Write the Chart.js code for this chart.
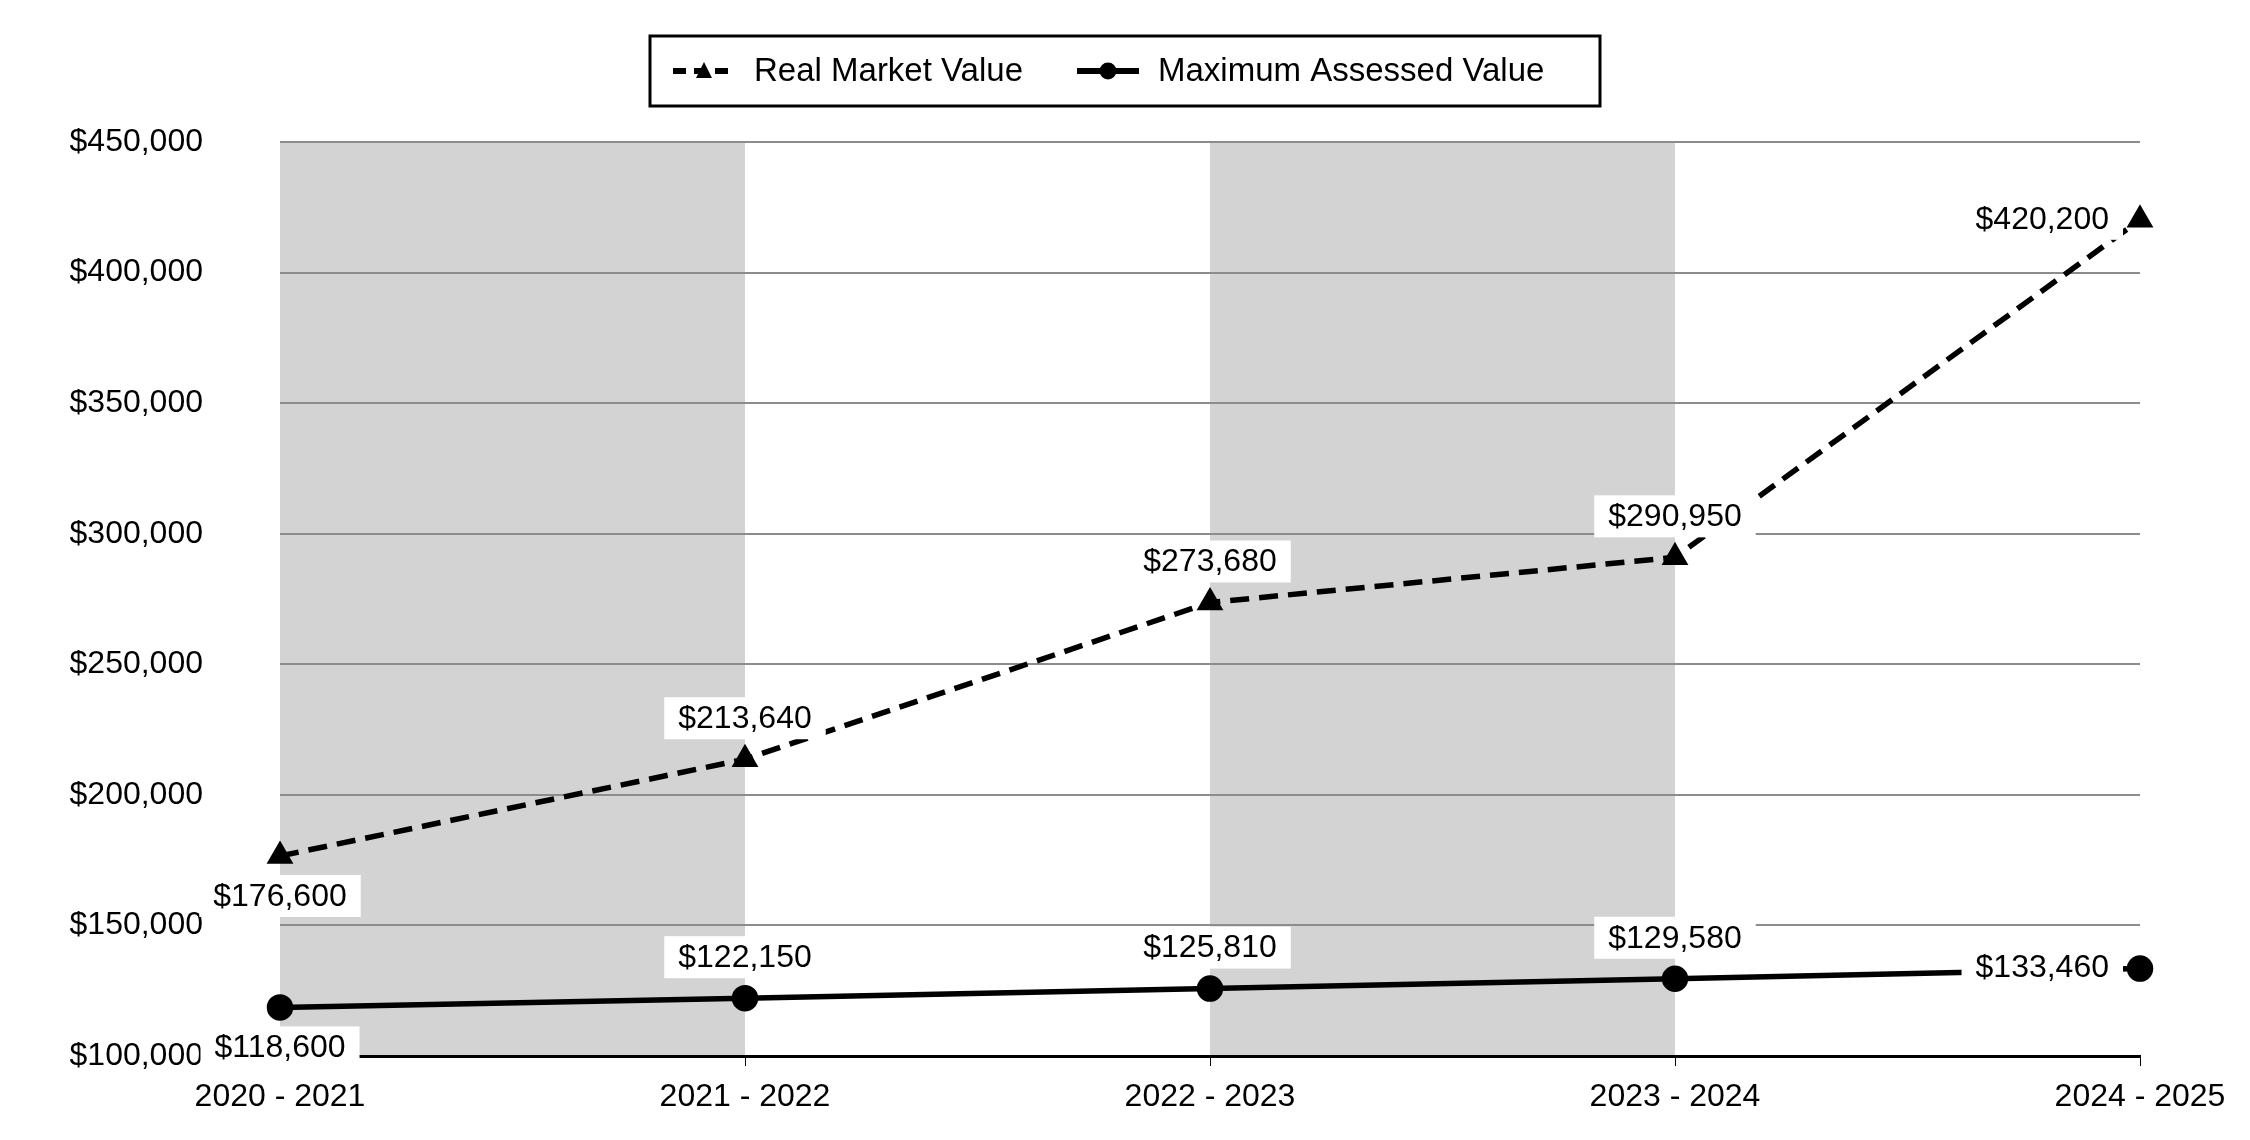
<!DOCTYPE html>
<html>
<head>
<meta charset="utf-8">
<title>Real Market Value vs Maximum Assessed Value</title>
<script src="https://cdn.jsdelivr.net/npm/chart.js@4.4.1/dist/chart.umd.min.js"></script>
<style>
  html, body { margin: 0; padding: 0; background: #ffffff; }
  #wrap { width: 2250px; height: 1140px; }
</style>
</head>
<body>
<div id="wrap"><canvas id="values" width="2250" height="1140"></canvas></div>
<script>
const categories = ["2020 - 2021", "2021 - 2022", "2022 - 2023", "2023 - 2024", "2024 - 2025"];
const realMarketValue = [176600, 213640, 273680, 290950, 420200];
const maxAssessedValue = [118600, 122150, 125810, 129580, 133460];
const yMin = 100000;
const yMax = 450000;
const yStep = 50000;

// which category spans get the grey band behind them
const shadedSpans = [[0, 1], [2, 3]];
// where each value label sits relative to its point
const labelPlacement = [
  ["below", "above", "above", "above", "left"],
  ["below", "above", "above", "above", "left"]
];

const FONT = "'Liberation Sans', Arial, sans-serif";
const money = v => "$" + v.toLocaleString("en-US");

// grey bands behind the plot
const bandsPlugin = {
  id: "bands",
  beforeDraw(chart) {
    const ctx = chart.ctx, x = chart.scales.x, a = chart.chartArea;
    ctx.save();
    ctx.fillStyle = "#d3d3d3";
    shadedSpans.forEach(s => {
      const x0 = x.getPixelForValue(s[0]);
      const x1 = x.getPixelForValue(s[1]);
      ctx.fillRect(x0, a.top, x1 - x0, a.bottom - a.top);
    });
    ctx.restore();
  }
};

// value labels on white boxes
const valueLabels = {
  id: "valueLabels",
  afterDatasetsDraw(chart) {
    const ctx = chart.ctx;
    ctx.save();
    ctx.font = "32px " + FONT;
    ctx.textBaseline = "middle";
    chart.data.datasets.forEach((ds, di) => {
      const meta = chart.getDatasetMeta(di);
      meta.data.forEach((pt, i) => {
        const txt = money(ds.data[i]);
        const w = ctx.measureText(txt).width;
        const padX = 14, h = 42;
        let cx, cy;
        const where = labelPlacement[di][i];
        if (where === "above") { cx = pt.x; cy = pt.y - 41; }
        else if (where === "below") { cx = pt.x; cy = pt.y + 40; }
        else { cx = pt.x - 31 - w / 2; cy = pt.y - 1; }
        ctx.fillStyle = "#ffffff";
        ctx.fillRect(cx - w / 2 - padX, cy - h / 2, w + padX * 2, h);
        ctx.fillStyle = "#000000";
        ctx.textAlign = "center";
        ctx.fillText(txt, cx, cy + 1);
      });
    });
    ctx.restore();
  }
};

// boxed legend on top
const boxLegend = {
  id: "boxLegend",
  afterDraw(chart) {
    const ctx = chart.ctx;
    const top = 36, bottom = 106, left = 650, right = 1600;
    const midY = (top + bottom) / 2;
    ctx.save();
    ctx.lineWidth = 3;
    ctx.strokeStyle = "#000";
    ctx.strokeRect(left, top, right - left, bottom - top);
    ctx.font = "33px " + FONT;
    ctx.textBaseline = "middle";
    ctx.textAlign = "left";
    let x = 673;
    chart.data.datasets.forEach(ds => {
      const iconW = 62;
      ctx.strokeStyle = "#000";
      ctx.fillStyle = "#000";
      ctx.lineWidth = 6;
      ctx.setLineDash(ds.borderDash ? [13, 8] : []);
      ctx.beginPath();
      ctx.moveTo(x, midY);
      ctx.lineTo(x + iconW, midY);
      ctx.stroke();
      ctx.setLineDash([]);
      const c = x + iconW / 2;
      ctx.beginPath();
      if (ds.pointStyle === "triangle") {
        ctx.moveTo(c, midY - 9);
        ctx.lineTo(c + 8, midY + 7);
        ctx.lineTo(c - 8, midY + 7);
        ctx.closePath();
      } else {
        ctx.arc(c, midY, 8.5, 0, Math.PI * 2);
      }
      ctx.fill();
      x += iconW + 19;
      ctx.fillText(ds.label, x, midY + 1);
      x += ctx.measureText(ds.label).width + 54;
    });
    ctx.restore();
  }
};

const data = {
  labels: categories,
  datasets: [
    {
      label: "Real Market Value",
      data: realMarketValue,
      borderColor: "#000",
      backgroundColor: "#000",
      borderWidth: 5.5,
      borderDash: [19, 10],
      pointStyle: "triangle",
      pointRadius: 10,
      tension: 0
    },
    {
      label: "Maximum Assessed Value",
      data: maxAssessedValue,
      borderColor: "#000",
      backgroundColor: "#000",
      borderWidth: 5.5,
      pointStyle: "circle",
      pointRadius: 10.5,
      tension: 0
    }
  ]
};

const config = {
  type: "line",
  data: data,
  options: {
    responsive: false,
    devicePixelRatio: 1,
    animation: false,
    layout: { padding: { left: 0, right: 110, top: 142, bottom: 0 } },
    plugins: {
      legend: { display: false },
      tooltip: { enabled: false }
    },
    scales: {
      x: {
        z: 1,
        offset: false,
        afterFit(s) { s.height = 84; },
        grid: { drawOnChartArea: false, drawTicks: true, tickLength: 10, color: "#000", lineWidth: 1 },
        border: { display: true, color: "#000", width: 3 },
        ticks: { color: "#000", font: { family: FONT, size: 32 }, padding: 12, maxRotation: 0 }
      },
      y: {
        min: yMin,
        max: yMax,
        afterFit(s) { s.width = 280; },
        // invisible tick marks push the labels off the plot without inflating the vertical padding
        grid: { drawTicks: true, tickLength: 72, tickColor: "rgba(0,0,0,0)", color: "#8c8c8c", lineWidth: 2 },
        border: { display: false },
        ticks: {
          stepSize: yStep,
          color: "#000",
          font: { family: FONT, size: 32 },
          padding: 5,
          callback: v => money(v)
        }
      }
    }
  },
  plugins: [bandsPlugin, valueLabels, boxLegend]
};

new Chart(document.getElementById("values"), config);
</script>
</body>
</html>
